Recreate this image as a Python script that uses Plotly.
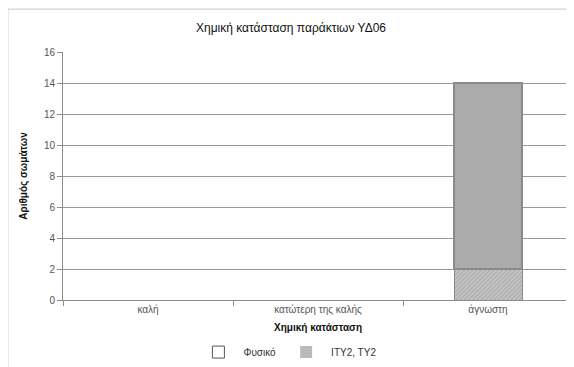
import plotly.graph_objects as go

categories = ["καλή", "κατώτερη της καλής", "άγνωστη"]
fysiko = [0, 0, 12]
ity_ty = [0, 0, 2]
y_ticks = [0, 2, 4, 6, 8, 10, 12, 14, 16]

FONT = "Liberation Sans"


def edge_widths(values, w):
    # no outline for empty bars
    return [w if v else 0 for v in values]


fig = go.Figure()
fig.add_trace(go.Bar(
    x=categories, y=ity_ty, name="ΙΤΥ2, ΤΥ2",
    marker=dict(color="#b8b8b8", line=dict(color="#8a8a8a", width=edge_widths(ity_ty, 1)),
                pattern=dict(shape="/", fgcolor="#8c8c8c", bgcolor="#c8c8c8", size=3, solidity=0.45)),
))
fig.add_trace(go.Bar(
    x=categories, y=fysiko, name="Φυσικό", showlegend=False, legendgroup="f",
    marker=dict(color="#ababab", line=dict(color="#8a8a8a", width=edge_widths(fysiko, 1.5))),
))
# legend entry for Φυσικό as drawn in the original (white box)
fig.add_trace(go.Bar(
    x=[None], y=[None], name="Φυσικό", legendgroup="f",
    marker=dict(color="white", line=dict(color="#555555", width=1)),
))

# page body has an 8px margin, so the figure is a bit smaller than the window
fig.update_layout(
    barmode="stack",
    bargap=0.6,
    width=566, height=359,
    paper_bgcolor="white", plot_bgcolor="white",
    font=dict(family=FONT, size=10, color="#555555"),
    title=dict(text="Χημική κατάσταση παράκτιων ΥΔ06", x=0.5, xanchor="center",
               y=0.944, yanchor="middle", font=dict(size=12, color="#111111")),
    margin=dict(l=55, r=1, t=44, b=67, autoexpand=False),
    legend=dict(orientation="h", x=0.44, xanchor="center", y=-0.21, yanchor="middle",
                traceorder="reversed", font=dict(size=10, color="#333333"), itemwidth=40),
    showlegend=True,
    xaxis=dict(
        showline=True, linecolor="#8c8c8c", ticks="outside", tickson="boundaries",
        tickcolor="#8c8c8c", ticklen=5, automargin=False,
        title=dict(text="<b>Χημική κατάσταση</b>", standoff=9, font=dict(size=10, color="#111111")),
    ),
    yaxis=dict(
        range=[0, 16], tickvals=y_ticks, showgrid=True, gridcolor="#999999",
        ticks="outside", tickcolor="#8c8c8c", ticklen=5, showline=True, linecolor="#8c8c8c",
        zeroline=False, automargin=False,
        title=dict(text="<b>Αριθμός σωμάτων</b>", standoff=14, font=dict(size=10, color="#111111")),
    ),
    shapes=[dict(type="rect", xref="paper", yref="paper", x0=-0.108, x1=1.02, y0=-0.3, y1=1.173,
                 line=dict(color="#c8c8c8", width=1))],
)

fig.write_html("out.html")
